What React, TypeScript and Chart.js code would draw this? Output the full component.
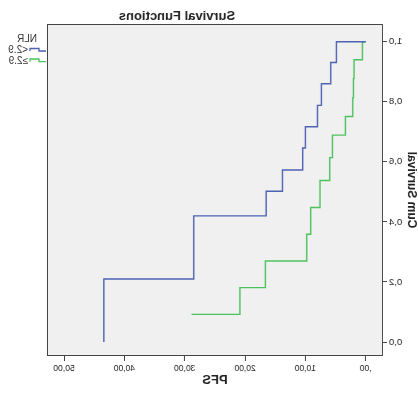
import React, { useEffect, useRef } from "react";
import { Chart, registerables } from "chart.js";

Chart.register(...registerables);

// ---- Data ----
const seriesNames = ["<2.9", "≥2.9"];
const legendTitle = "NLR";
const chartTitle = "Survival Functions";
const xTitle = "PFS";
const yTitle = "Cum Survival";

const lowTimes = [0, 4.86, 5.8, 7.35, 8.0, 10.0, 10.45, 13.8, 16.5, 28.5, 43.4];
const lowSurv = [1, 0.931, 0.86, 0.788, 0.717, 0.646, 0.573, 0.502, 0.42, 0.21, 0];

const highTimes = [0, 0.55, 1.94, 2.04, 2.16, 3.37, 5.52, 5.97, 7.58, 9.12, 9.78, 16.63, 20.85, 28.86];
const highSurv = [1, 0.94, 0.877, 0.813, 0.751, 0.689, 0.614, 0.538, 0.448, 0.359, 0.27, 0.181, 0.092, 0.092];

const xTicks = [0, 10, 20, 30, 40, 50];
const xTickLabels = [",00", "10,00", "20,00", "30,00", "40,00", "50,00"];
const yTicks = [0, 0.2, 0.4, 0.6, 0.8, 1.0];
const yTickLabels = ["0,0", "0,2", "0,4", "0,6", "0,8", "1,0"];

const seriesColors = ["#4d62b2", "#4cc25c"];

const FONT = "'Liberation Sans', Arial, sans-serif";

export default function App() {
  const ref = useRef<HTMLCanvasElement | null>(null);

  useEffect(() => {
    const canvas = ref.current;
    if (!canvas) return;

    const decor = {
      id: "spssDecor",
      beforeDraw(chart: any) {
        const { ctx, chartArea } = chart;
        ctx.save();
        ctx.fillStyle = "#ffffff";
        ctx.fillRect(0, 0, chart.width, chart.height);
        ctx.fillStyle = "#f0f0f0";
        ctx.fillRect(chartArea.left, chartArea.top, chartArea.right - chartArea.left, chartArea.bottom - chartArea.top);
        ctx.restore();
      },
      afterDatasetsDraw(chart: any) {
        const { ctx, chartArea } = chart;
        ctx.save();
        // plot frame
        ctx.strokeStyle = "#444444";
        ctx.lineWidth = 1;
        ctx.strokeRect(chartArea.left + 0.5, chartArea.top + 0.5, chartArea.right - chartArea.left - 1, chartArea.bottom - chartArea.top - 1);

        ctx.fillStyle = "#222222";
        // title
        ctx.font = `bold 13px ${FONT}`;
        ctx.textAlign = "center";
        ctx.textBaseline = "middle";
        ctx.fillText(chartTitle, 241, 16);
        // x title
        ctx.fillText(xTitle, (chartArea.left + chartArea.right) / 2, 380);
        // y title
        ctx.save();
        ctx.translate(10, (chartArea.top + chartArea.bottom) / 2);
        ctx.rotate(-Math.PI / 2);
        ctx.font = `bold 12px ${FONT}`;
        ctx.textBaseline = "alphabetic";
        ctx.fillText(yTitle, 0, 0);
        ctx.restore();

        // legend
        ctx.font = `10px ${FONT}`;
        ctx.textAlign = "center";
        ctx.fillStyle = "#333333";
        ctx.fillText(legendTitle, 391, 39);
        const rows = [
          { top: 48.5, bottom: 51 },
          { top: 59, bottom: 61.7 },
        ];
        rows.forEach((r, i) => {
          ctx.strokeStyle = seriesColors[i];
          ctx.lineWidth = 1.3;
          ctx.beginPath();
          ctx.moveTo(372, r.bottom);
          ctx.lineTo(379, r.bottom);
          ctx.lineTo(379, r.top);
          ctx.lineTo(388, r.top);
          ctx.lineTo(388, r.bottom);
          ctx.stroke();
          ctx.fillStyle = "#333333";
          ctx.textAlign = "left";
          ctx.textBaseline = "middle";
          ctx.fillText(seriesNames[i], 390, (r.top + r.bottom) / 2 + 0.5);
        });
        ctx.restore();
      },
    };

    const chart = new Chart(canvas, {
      type: "line",
      data: {
        datasets: [
          {
            label: seriesNames[0],
            data: lowTimes.map((t, i) => ({ x: t, y: lowSurv[i] })),
            borderColor: seriesColors[0],
            borderWidth: 1.4,
            pointRadius: 0,
            stepped: "before",
            fill: false,
          },
          {
            label: seriesNames[1],
            data: highTimes.map((t, i) => ({ x: t, y: highSurv[i] })),
            borderColor: seriesColors[1],
            borderWidth: 1.4,
            pointRadius: 0,
            stepped: "before",
            fill: false,
          },
        ],
      },
      options: {
        responsive: false,
        maintainAspectRatio: false,
        animation: false,
        devicePixelRatio: 1,
        layout: { padding: { top: 24, right: 47, bottom: 0, left: 0 } },
        plugins: {
          legend: { display: false },
          title: { display: false },
          tooltip: { enabled: false },
        },
        scales: {
          x: {
            type: "linear",
            min: -2.85,
            max: 52.82,
            afterBuildTicks: (s: any) => {
              s.ticks = xTicks.map((v) => ({ value: v }));
            },
            afterFit: (s: any) => {
              s.height = 40;
            },
            ticks: {
              autoSkip: false,
              maxRotation: 0,
              padding: 3,
              color: "#222222",
              font: { family: FONT, size: 8.5 },
              callback: (v: any) => {
                const i = xTicks.indexOf(Number(v));
                return i >= 0 ? xTickLabels[i] : "";
              },
            },
            grid: { drawOnChartArea: false, drawTicks: true, tickLength: 5, color: "#444444" },
            border: { display: false },
          },
          y: {
            type: "linear",
            min: -0.0466,
            max: 1.059,
            afterBuildTicks: (s: any) => {
              s.ticks = yTicks.map((v) => ({ value: v }));
            },
            afterFit: (s: any) => {
              s.width = 35;
            },
            ticks: {
              autoSkip: false,
              padding: 2,
              color: "#222222",
              font: { family: FONT, size: 9.5 },
              callback: (v: any) => {
                const i = yTicks.findIndex((t) => Math.abs(t - Number(v)) < 1e-6);
                return i >= 0 ? yTickLabels[i] : "";
              },
            },
            grid: { drawOnChartArea: false, drawTicks: true, tickLength: 4, color: "#444444" },
            border: { display: false },
          },
        },
      },
      plugins: [decor],
    } as any);

    return () => chart.destroy();
  }, []);

  return (
    <div style={{ position: "fixed", left: 0, top: 0, width: 418, height: 396, background: "#fff" }}>
      <canvas
        ref={ref}
        width={418}
        height={396}
        style={{ display: "block", width: 418, height: 396, transform: "scaleX(-1)" }}
      />
    </div>
  );
}
